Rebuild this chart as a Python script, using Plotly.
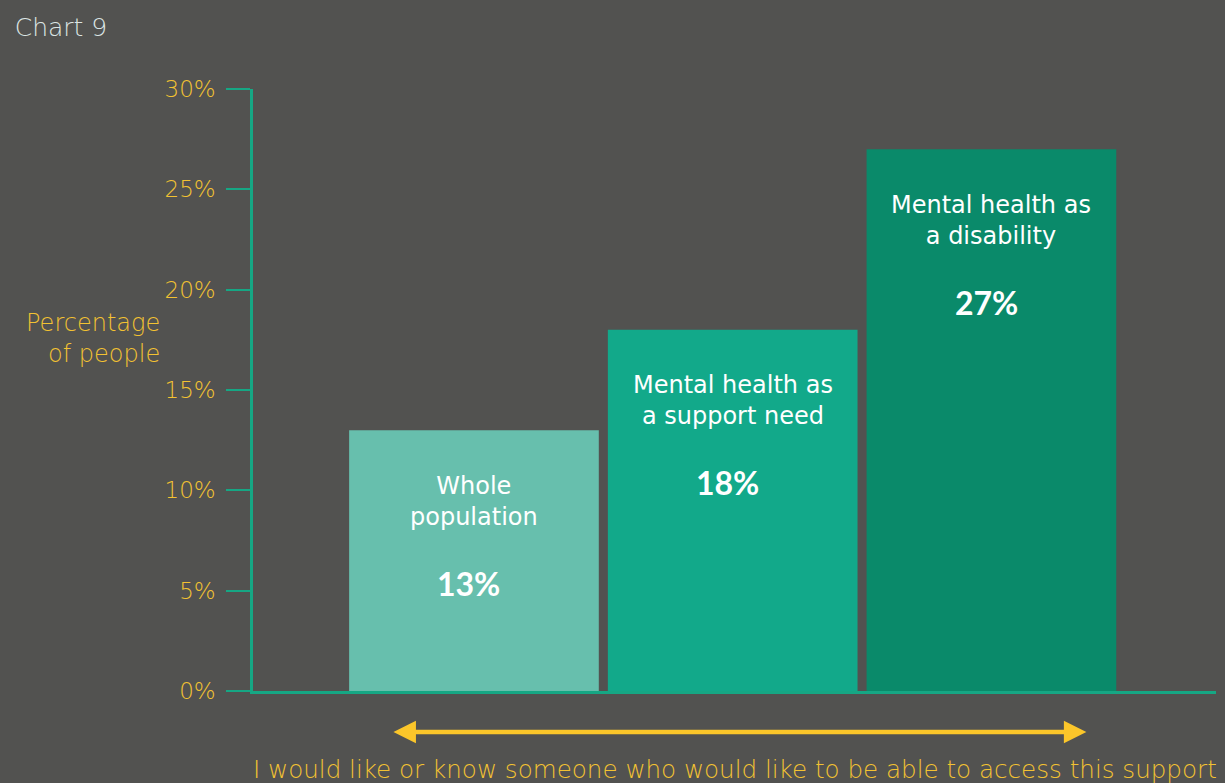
import plotly.graph_objects as go

# Data
categories = ["Whole<br>population", "Mental health as<br>a support need", "Mental health as<br>a disability"]
values = [13, 18, 27]
tick_vals = [0, 5, 10, 15, 20, 25, 30]
tick_text = ["0%", "5%", "10%", "15%", "20%", "25%", "30%"]

BG = "#525250"
AXIS = "#16A784"
GOLD = "#F3C232"
ARROW = "#FBC62A"
bar_colors = ["#67BFAD", "#12A98A", "#0A8A6A"]
FONT = "DejaVu Sans"
BOLD_FONT = "Lato"

x_pos = list(range(len(values)))

fig = go.Figure()
fig.add_trace(go.Bar(
    x=x_pos, y=values, width=0.965,
    marker=dict(color=bar_colors, line=dict(width=0)),
    hoverinfo="skip",
))

# Category name and value inside each bar
for xi, (cat, v) in enumerate(zip(categories, values)):
    fig.add_annotation(x=xi, y=v, xref="x", yref="y", text=cat, showarrow=False,
                       yanchor="middle", yshift=-71, align="center",
                       font=dict(family=FONT, size=24, color="white", weight=400))
    fig.add_annotation(x=xi - 0.02, y=v, xref="x", yref="y", text=f"<b>{v}%</b>", showarrow=False,
                       yanchor="middle", yshift=-153,
                       font=dict(family=BOLD_FONT, size=32, color="white"))

# Axis title
fig.add_annotation(x=-0.095, y=0.585, xref="paper", yref="paper", text="Percentage<br>of people",
                   showarrow=False, xanchor="right", yanchor="middle", align="right",
                   font=dict(family=FONT, size=24, color=GOLD, weight=300))

# Double-headed arrow below the axis
fig.add_annotation(x=2.367, y=-0.068, xref="x", yref="paper",
                   ax=-0.317, ay=0, axref="x", ayref="pixel",
                   text="", showarrow=True, arrowhead=2, startarrowhead=2,
                   arrowside="end+start", arrowwidth=4.5, arrowsize=1.0, startarrowsize=1.0,
                   arrowcolor=ARROW)

fig.add_annotation(x=0.5, y=-0.13, xref="paper", yref="paper",
                   text="I would like or know someone who would like to be able to access this support",
                   showarrow=False, xanchor="center", yanchor="middle",
                   font=dict(family=FONT, size=24.6, color=GOLD, weight=300))

fig.update_layout(
    width=1225, height=783,
    paper_bgcolor=BG, plot_bgcolor=BG,
    margin=dict(l=253, r=9, t=89, b=92),
    showlegend=False,
    title=dict(text="Chart 9", x=0.012, xanchor="left", y=0.965, yanchor="middle",
               font=dict(family=FONT, size=25, color="#DCE5E4", weight=300)),
    xaxis=dict(range=[-0.854, 2.868], showgrid=False, zeroline=False,
               showline=True, linecolor=AXIS, linewidth=2.5,
               tickvals=[2.865], ticktext=[""], ticks="inside", ticklen=14,
               tickwidth=2.5, tickcolor=AXIS, fixedrange=True),
    yaxis=dict(range=[0, 30], showgrid=False, zeroline=False,
               showline=True, linecolor=AXIS, linewidth=2.5,
               tickvals=tick_vals, ticktext=tick_text, ticks="outside", ticklen=24,
               tickwidth=1.5, tickcolor=AXIS, ticklabelstandoff=6,
               tickfont=dict(family=FONT, size=23, color=GOLD, weight=300), fixedrange=True),
)

fig.write_html("out.html")
